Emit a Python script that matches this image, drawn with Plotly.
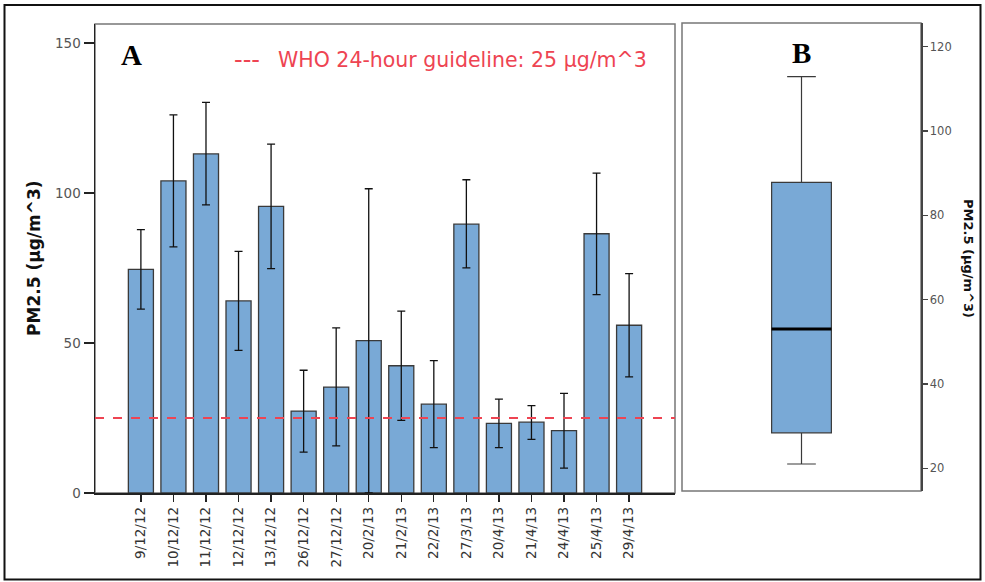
import plotly.graph_objects as go

# ---- data ----
dates = ["9/12/12", "10/12/12", "11/12/12", "12/12/12", "13/12/12", "26/12/12",
         "27/12/12", "20/2/13", "21/2/13", "22/2/13", "27/3/13", "20/4/13",
         "21/4/13", "24/4/13", "25/4/13", "29/4/13"]
pm25_mean = [74.5, 104.0, 113.0, 64.0, 95.5, 27.3, 35.3, 50.8, 42.4, 29.6,
             89.6, 23.2, 23.6, 20.8, 86.4, 55.9]
err_upper = [87.8, 126.0, 130.2, 80.5, 116.3, 40.9, 55.0, 101.4, 60.6, 44.1,
             104.4, 31.3, 29.1, 33.2, 106.6, 73.1]
err_lower = [61.3, 82.0, 96.0, 47.5, 74.8, 13.6, 15.7, 0.0, 24.2, 15.1,
             75.0, 15.1, 17.9, 8.3, 66.1, 38.7]
WHO_GUIDELINE = 25
legend_dash = "---"
legend_text = "WHO 24-hour guideline: 25 µg/m^3"

# box summary (panel B)
box_lowerfence = [21.0]
box_q1 = [28.4]
box_median = [53.0]
box_q3 = [87.8]
box_upperfence = [112.9]

y_ticks_a = [0, 50, 100, 150]
y_ticks_b = [20, 40, 60, 80, 100, 120]

W, H = 985, 582          # reference pixel frame
FIG_H = 590              # rendered height (capture is rescaled to 582)
BAR_COLOR = "#79a9d6"

def px_x(p):
    return p / W

def px_y(p):
    return 1 - p / H

fig = go.Figure()

fig.add_trace(go.Bar(
    x=dates, y=pm25_mean,
    marker=dict(color=BAR_COLOR, line=dict(color="#3a3a3a", width=1.3)),
    error_y=dict(type="data", symmetric=False,
                 array=[u - m for u, m in zip(err_upper, pm25_mean)],
                 arrayminus=[m - l for m, l in zip(pm25_mean, err_lower)],
                 color="#111111", thickness=1.3, width=4),
    xaxis="x", yaxis="y", showlegend=False, hoverinfo="skip",
))

fig.add_trace(go.Box(
    x=[0], lowerfence=box_lowerfence, q1=box_q1, median=box_median,
    q3=box_q3, upperfence=box_upperfence,
    fillcolor=BAR_COLOR, line=dict(color="#3a3a3a", width=1.2),
    width=0.25, whiskerwidth=0.48, boxpoints=False,
    xaxis="x2", yaxis="y2", showlegend=False, hoverinfo="skip",
))
# thick median line
fig.add_trace(go.Scatter(
    x=[-0.125, 0.125], y=[box_median[0], box_median[0]], mode="lines",
    line=dict(color="black", width=3), xaxis="x2", yaxis="y2",
    showlegend=False, hoverinfo="skip",
))

font_family = "DejaVu Sans"

fig.update_layout(
    width=W, height=FIG_H,
    margin=dict(l=0, r=0, t=0, b=0),
    paper_bgcolor="white", plot_bgcolor="white",
    bargap=0.23,
    font=dict(family=font_family, color="#333"),
    xaxis=dict(
        domain=[px_x(95), px_x(675)], type="category",
        range=[-1.41, 16.41], tickangle=-90,
        tickfont=dict(size=13.5, color="#333"),
        ticks="outside", ticklen=7, tickcolor="#222", tickwidth=1.3,
        showline=True, linecolor="#222", linewidth=1.5,
        showgrid=False, zeroline=False, anchor="y",
    ),
    yaxis=dict(
        domain=[px_y(493), px_y(24)], range=[0, 156.3],
        tickvals=y_ticks_a, ticktext=[str(v) for v in y_ticks_a],
        tickfont=dict(size=13.5, color="#555"),
        ticks="outside", ticklen=10, tickcolor="#222", tickwidth=1.3,
        showline=True, linecolor="#222", linewidth=1.5,
        showgrid=False, zeroline=False, anchor="x",
    ),
    xaxis2=dict(
        domain=[px_x(682), px_x(921)], range=[-0.5, 0.5],
        showticklabels=False, ticks="", showline=False,
        showgrid=False, zeroline=False, anchor="y2",
    ),
    yaxis2=dict(
        domain=[px_y(491), px_y(23)], range=[14.6, 125.6], side="right",
        tickvals=y_ticks_b, ticktext=[str(v) for v in y_ticks_b],
        tickfont=dict(size=11.5, color="#555"),
        ticks="outside", ticklen=5, tickcolor="#444", tickwidth=1.2,
        showline=True, linecolor="#444", linewidth=1.5,
        showgrid=False, zeroline=False, anchor="x2",
    ),
)

shapes = [
    # outer frame
    dict(type="rect", xref="paper", yref="paper",
         x0=px_x(4.5), x1=px_x(980.5), y0=px_y(579.5), y1=px_y(5),
         line=dict(color="#111", width=2)),
    # panel A frame
    dict(type="rect", xref="x domain", yref="y domain", x0=0, x1=1, y0=0, y1=1,
         line=dict(color="#777", width=1.5), layer="below"),
    # panel B frame
    dict(type="rect", xref="x2 domain", yref="y2 domain", x0=0, x1=1, y0=0, y1=1,
         line=dict(color="#777", width=1.5), layer="below"),
    # WHO guideline
    dict(type="line", xref="x domain", yref="y", x0=0, x1=1,
         y0=WHO_GUIDELINE, y1=WHO_GUIDELINE,
         line=dict(color="#ee4452", width=2, dash="dash")),
]
fig.update_layout(shapes=shapes)

annotations = [
    dict(text="<b>A</b>", xref="paper", yref="paper", x=px_x(131), y=px_y(55),
         showarrow=False, font=dict(family="Liberation Serif", size=29, color="black"),
         xanchor="center", yanchor="middle"),
    dict(text="<b>B</b>", xref="paper", yref="paper", x=px_x(801), y=px_y(53),
         showarrow=False, font=dict(family="Liberation Serif", size=29, color="black"),
         xanchor="center", yanchor="middle"),
    dict(text=legend_dash, xref="paper", yref="paper", x=px_x(247), y=px_y(60),
         showarrow=False, font=dict(family=font_family, size=24, color="#ee4452"),
         xanchor="center", yanchor="middle"),
    dict(text=legend_text, xref="paper", yref="paper", x=px_x(276), y=px_y(60),
         showarrow=False, font=dict(family=font_family, size=20.5, color="#ee4452"),
         xanchor="left", yanchor="middle"),
    dict(text="<b>PM2.5 (µg/m^3)</b>", xref="paper", yref="paper",
         x=px_x(34), y=px_y(258), textangle=-90, showarrow=False,
         font=dict(family=font_family, size=17, color="#111"),
         xanchor="center", yanchor="middle"),
    dict(text="<b>PM2.5 (µg/m^3)</b>", xref="paper", yref="paper",
         x=px_x(969), y=px_y(258), textangle=90, showarrow=False,
         font=dict(family=font_family, size=13, color="#111"),
         xanchor="center", yanchor="middle"),
]
fig.update_layout(annotations=annotations)

fig.write_html(
    "out.html",
    config={"displayModeBar": False, "staticPlot": True},
    post_script=(
        "document.documentElement.style.margin='0';"
        "document.documentElement.style.padding='0';"
        "document.documentElement.style.overflow='hidden';"
        "document.body.style.margin='0';"
        "document.body.style.padding='0';"
        "document.body.style.overflow='hidden';"
    ),
)
